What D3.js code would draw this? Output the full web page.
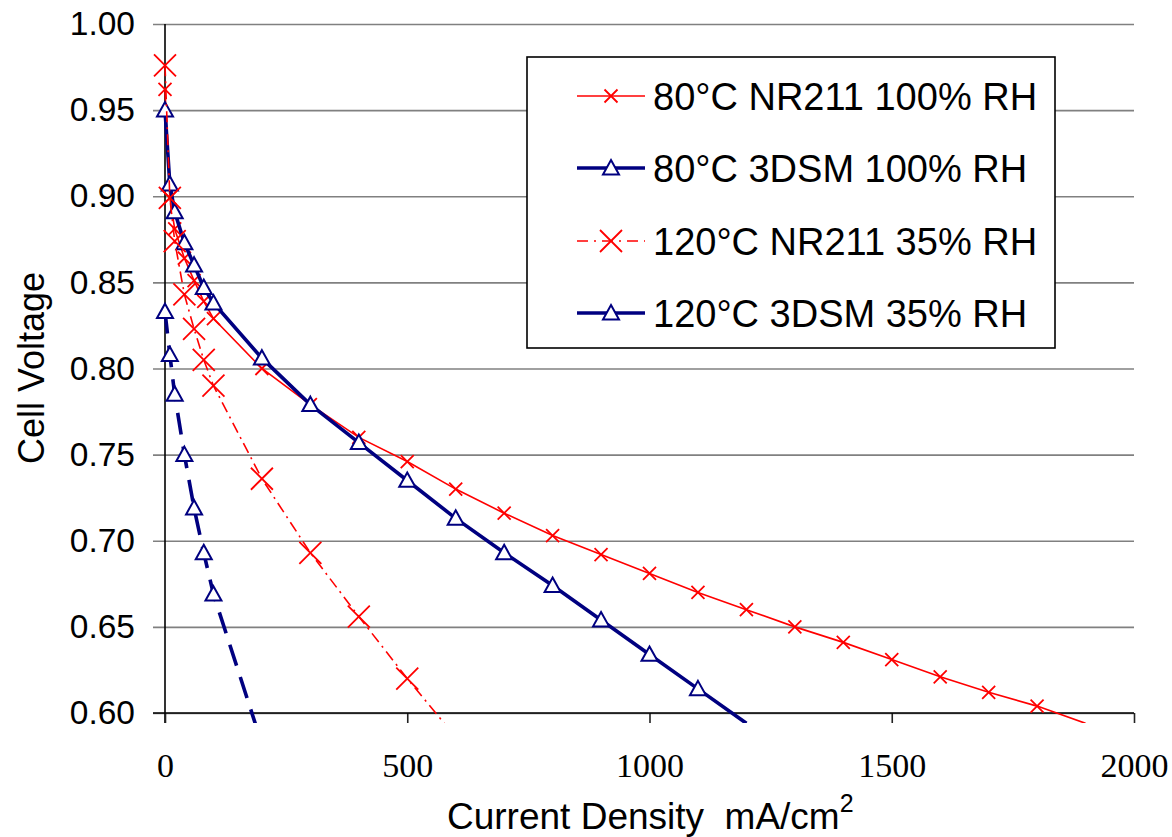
<!DOCTYPE html>
<html lang="en">
<head>
<meta charset="utf-8"/>
<script src="https://d3js.org/d3.v7.min.js"></script>
<style>
  body { margin: 0; background: #fff; }
  svg { display: block; }
</style>
</head>
<body>
<script>
// chart values
var yTicks = [0.60, 0.65, 0.70, 0.75, 0.80, 0.85, 0.90, 0.95, 1.00];
var xTicks = [0, 500, 1000, 1500, 2000];

var seriesNames = ["80\u00B0C NR211 100% RH", "80\u00B0C 3DSM 100% RH",
                   "120\u00B0C NR211 35% RH", "120\u00B0C 3DSM 35% RH"];

var nr211_80_current = [0, 10, 20, 40, 60, 80, 100, 200, 300, 400, 500, 600, 700, 800, 900, 1000,
                        1100, 1200, 1300, 1400, 1500, 1600, 1700, 1800, 1900];
var nr211_80_voltage = [0.962, 0.899, 0.881, 0.864, 0.851, 0.839, 0.829, 0.800, 0.779, 0.760, 0.746,
                        0.730, 0.716, 0.703, 0.692, 0.681, 0.670, 0.660, 0.650, 0.641, 0.631, 0.621,
                        0.612, 0.604, 0.594];

var dsm_80_current = [0, 10, 20, 40, 60, 80, 100, 200, 300, 400, 500, 600, 700, 800, 900, 1000, 1100, 1200];
var dsm_80_voltage = [0.950, 0.907, 0.891, 0.873, 0.860, 0.847, 0.838, 0.806, 0.779, 0.757, 0.735,
                      0.713, 0.693, 0.674, 0.654, 0.634, 0.614, 0.594];

var nr211_120_current = [0, 10, 20, 40, 60, 80, 100, 200, 300, 400, 500, 600];
var nr211_120_voltage = [0.976, 0.899, 0.874, 0.843, 0.823, 0.805, 0.790, 0.736, 0.693, 0.656, 0.620, 0.586];

var dsm_120_current = [0, 10, 20, 40, 60, 80, 100, 200];
var dsm_120_voltage = [0.833, 0.808, 0.785, 0.750, 0.719, 0.693, 0.669, 0.582];

var W = 1172, H = 837;
var svg = d3.select("body").append("svg").attr("width", W).attr("height", H);

var x = d3.scaleLinear().domain([0, 2000]).range([165, 1134]);
var y = d3.scaleLinear().domain([0.6, 1.0]).range([713, 24]);

// gridlines (they also form the little ticks left of the axis)
svg.append("g")
    .attr("transform", "translate(153,0)")
    .call(d3.axisLeft(y).tickValues(yTicks).tickSize(-(1134 - 153)).tickFormat(""))
    .call(function(g) {
        g.select(".domain").remove();
        g.selectAll("line").attr("stroke", "#808080").attr("stroke-width", 1.6);
    });

// y axis
svg.append("g")
    .attr("transform", "translate(165,0)")
    .call(d3.axisLeft(y).tickValues(yTicks).tickSize(0).tickPadding(30).tickFormat(d3.format(".2f")))
    .call(function(g) {
        g.select(".domain").remove();
        g.selectAll("text")
            .attr("font-family", "Liberation Sans, Arial, sans-serif")
            .attr("font-size", 33.5)
            .attr("fill", "#000");
    });
svg.append("line")
    .attr("x1", 165).attr("x2", 165)
    .attr("y1", y(1.0)).attr("y2", 723)
    .attr("stroke", "#000").attr("stroke-width", 1.6);

// x axis
svg.append("g")
    .attr("transform", "translate(0," + y(0.6) + ")")
    .call(d3.axisBottom(x).tickValues(xTicks).tickSize(10).tickSizeOuter(0).tickFormat(d3.format("d")))
    .call(function(g) {
        g.select(".domain").remove();
        g.selectAll("line").attr("stroke", "#222").attr("stroke-width", 1.6);
        g.selectAll("text")
            .attr("y", 64).attr("dy", null)
            .attr("font-family", "Liberation Serif, Times New Roman, serif")
            .attr("font-size", 34)
            .attr("fill", "#000");
    });
svg.append("line")
    .attr("x1", 153).attr("x2", x(2000))
    .attr("y1", y(0.6)).attr("y2", y(0.6))
    .attr("stroke", "#000").attr("stroke-width", 1.6);

// axis titles
svg.append("text")
    .attr("transform", "translate(44,368) rotate(-90)")
    .attr("text-anchor", "middle")
    .attr("font-family", "Liberation Sans, Arial, sans-serif")
    .attr("font-size", 36)
    .text("Cell Voltage");

var xt = svg.append("text")
    .attr("x", 447).attr("y", 829)
    .attr("font-family", "Liberation Sans, Arial, sans-serif")
    .attr("font-size", 37)
    .style("white-space", "pre");
xt.append("tspan").text("Current Density  mA/cm");
xt.append("tspan").attr("dy", -17).attr("font-size", 25).text("2");

// series
var red = "#FF0000", navy = "#000080";
function pts(cur, volt) {
    return cur.map(function(c, i) { return {x: c, v: volt[i]}; });
}
var series = [
    {name: seriesNames[0], data: pts(nr211_80_current, nr211_80_voltage), color: red, width: 1.6, dash: null, legendDash: null, marker: "x", size: 6.5},
    {name: seriesNames[1], data: pts(dsm_80_current, dsm_80_voltage), color: navy, width: 3.6, dash: null, legendDash: null, marker: "tri", size: 8},
    {name: seriesNames[2], data: pts(nr211_120_current, nr211_120_voltage), color: red, width: 1.6, dash: "11,5,2,5", legendDash: "11,6,2,6", marker: "x", size: 11},
    {name: seriesNames[3], data: pts(dsm_120_current, dsm_120_voltage), color: navy, width: 3.6, dash: "22,12", legendDash: null, marker: "tri", size: 8}
];

svg.append("clipPath").attr("id", "plotclip")
    .append("rect").attr("x", 150).attr("y", 0).attr("width", 1000).attr("height", 723);

var line = d3.line().x(function(d) { return x(d.x); }).y(function(d) { return y(d.v); });

function markerPath(type, s) {
    if (type === "x") {
        return "M" + (-s) + "," + (-s) + "L" + s + "," + s + "M" + (-s) + "," + s + "L" + s + "," + (-s);
    }
    return "M0," + (-s) + "L" + s + "," + (s * 0.8) + "L" + (-s) + "," + (s * 0.8) + "Z";
}

series.forEach(function(s) {
    var g = svg.append("g");
    g.append("path")
        .attr("clip-path", "url(#plotclip)")
        .attr("d", line(s.data))
        .attr("fill", "none")
        .attr("stroke", s.color)
        .attr("stroke-width", s.width)
        .attr("stroke-dasharray", s.dash);
    g.selectAll(".m")
        .data(s.data.filter(function(d) { return d.v >= 0.6; }))
        .enter().append("path")
        .attr("transform", function(d) { return "translate(" + x(d.x) + "," + y(d.v) + ")"; })
        .attr("d", markerPath(s.marker, s.size))
        .attr("fill", s.marker === "tri" ? "#fff" : "none")
        .attr("stroke", s.color)
        .attr("stroke-width", s.marker === "tri" ? 2 : 1.8);
});

// legend
var lg = svg.append("g");
lg.append("rect")
    .attr("x", 527).attr("y", 57).attr("width", 528).attr("height", 291)
    .attr("fill", "#fff").attr("stroke", "#000").attr("stroke-width", 1.6);
var rowY = [96, 168, 241, 313];
series.forEach(function(s, i) {
    var r = lg.append("g").attr("transform", "translate(0," + rowY[i] + ")");
    r.append("line")
        .attr("x1", 577).attr("x2", 645)
        .attr("stroke", s.color).attr("stroke-width", s.width)
        .attr("stroke-dasharray", s.legendDash);
    r.append("path")
        .attr("transform", "translate(611,0)")
        .attr("d", markerPath(s.marker, s.marker === "x" ? s.size : 8))
        .attr("fill", s.marker === "tri" ? "#fff" : "none")
        .attr("stroke", s.color)
        .attr("stroke-width", s.marker === "tri" ? 2 : 1.8);
    r.append("text")
        .attr("x", 653).attr("dy", "0.36em")
        .attr("font-family", "Liberation Sans, Arial, sans-serif")
        .attr("font-size", 38)
        .text(s.name);
});
</script>
</body>
</html>
